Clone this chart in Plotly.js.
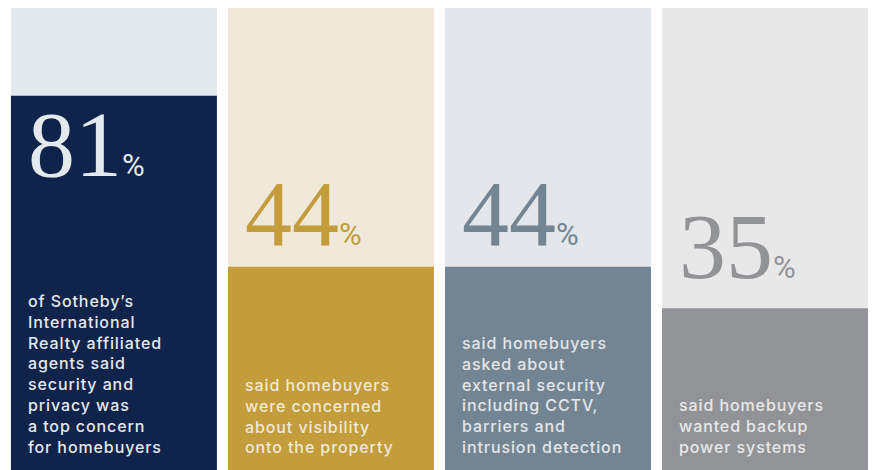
<!DOCTYPE html>
<html>
<head>
<meta charset="utf-8">
<script src="https://cdn.plot.ly/plotly-3.0.1.min.js"></script>
<style>
html,body{margin:0;padding:0;background:#fff;}
#chart{width:872px;height:470px;}
g.annotation[data-index="0"] text, g.annotation[data-index="1"] text,
g.annotation[data-index="2"] text, g.annotation[data-index="3"] text { letter-spacing: 0.9px; }
</style>
</head>
<body>
<div id="chart"></div>
<script>
// ---- data ----
const categories = ["Security & privacy top concern", "Visibility onto property", "External security", "Backup power"];
const values = [81, 44, 44, 35];
const fullScale = [100, 100, 100, 100];
const valueLabels = ["81", "44", "44", "35"];
const descriptions = [
  "of Sotheby’s<br>International<br>Realty affiliated<br>agents said<br>security and<br>privacy was<br>a top concern<br>for homebuyers",
  "said homebuyers<br>were concerned<br>about visibility<br>onto the property",
  "said homebuyers<br>asked about<br>external security<br>including CCTV,<br>barriers and<br>intrusion detection",
  "said homebuyers<br>wanted backup<br>power systems"
];

// ---- styles ----
const barColors = ["#10234a", "#c39c3c", "#738592", "#929397"];
const bgColors = ["#e4e9ee", "#f0e8d8", "#e3e6ea", "#e8e8e8"];
const numberColors = ["#e4e9ee", "#c39c3c", "#738592", "#929397"];
const textColors = ["#e4e9ee", "#f0e8d8", "#e3e6ea", "#e8e8e8"];
const numberInside = [true, false, false, false];
const numberShift = [6, 0, 0, 8];

const xIdx = categories.map((_, i) => i);

const traces = [
  {type: "bar", x: xIdx, y: fullScale, marker: {color: bgColors}, width: 0.949, hoverinfo: "skip"},
  {type: "bar", x: xIdx, y: values, marker: {color: barColors}, width: 0.949, hoverinfo: "skip"}
];

const annotations = [];
// description annotations first (indices 0-3)
xIdx.forEach(i => {
  annotations.push({
    xref: "x", yref: "y", x: i, y: 0,
    xanchor: "left", yanchor: "bottom",
    xshift: -88, yshift: 11,
    showarrow: false, align: "left",
    text: descriptions[i],
    font: {family: "Inter", size: 16, weight: 500, color: textColors[i]}
  });
});
// big value labels (indices 4-7)
xIdx.forEach(i => {
  annotations.push({
    xref: "x", yref: "y", x: i, y: values[i],
    xanchor: "left", yanchor: numberInside[i] ? "top" : "bottom",
    xshift: -88, yshift: numberShift[i],
    showarrow: false, align: "left",
    text: valueLabels[i] + "<span style='font-family:Roboto;font-size:31px'>%</span>",
    font: {family: "Liberation Serif", size: 94, color: numberColors[i]}
  });
});

const layout = {
  width: 872, height: 470,
  margin: {l: 0, r: 0, t: 8, b: 0},
  paper_bgcolor: "#ffffff", plot_bgcolor: "#ffffff",
  barmode: "overlay", showlegend: false,
  xaxis: {visible: false, range: [-0.525, 3.493], fixedrange: true},
  yaxis: {visible: false, range: [0, 100], fixedrange: true},
  annotations: annotations
};

Plotly.newPlot("chart", traces, layout, {displayModeBar: false, staticPlot: true});
</script>
</body>
</html>
